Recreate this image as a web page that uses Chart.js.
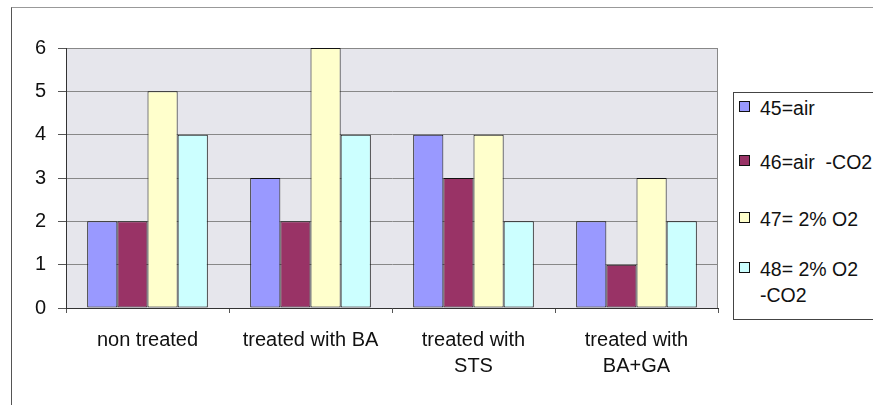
<!DOCTYPE html>
<html>
<head>
<meta charset="utf-8">
<script src="https://cdn.jsdelivr.net/npm/chart.js@4"></script>
<style>
  body { margin: 0; background: #fff; font-family: "Liberation Sans", Arial, sans-serif; }
  #wrap { position: relative; width: 873px; height: 405px; overflow: hidden; }
  #frame { position: absolute; left: 11px; top: 7px; width: 880px; height: 420px;
           border-left: 1px solid #555; border-top: 1px solid #999; }
  #legend { position: absolute; left: 733px; top: 92px; width: 160px; height: 226px;
            border: 1px solid #444; background: #fff; font-size: 19.5px; color: #111; }
  .item { position: absolute; left: 5px; display: flex; align-items: flex-start; }
  .box { width: 9px; height: 9px; border: 1px solid #111; margin-top: 6px; margin-right: 10px; }
</style>
</head>
<body>
<div id="wrap">
  <div id="frame"></div>
  <canvas id="myBarChart" width="873" height="405"></canvas>
  <div id="legend"></div>
</div>
<script>
var categories = [['non treated'], ['treated with BA'], ['treated with', 'STS'], ['treated with', 'BA+GA']];
var seriesNames = ['45=air', '46=air  -CO2', '47= 2% O2', '48= 2% O2\n-CO2'];
var air = [2, 3, 4, 2];
var airNoCO2 = [2, 2, 3, 1];
var lowO2 = [5, 6, 4, 3];
var lowO2NoCO2 = [4, 4, 2, 2];
var barColors = ['#9999ff', '#993366', '#ffffcc', '#ccffff'];
var yTicks = [0, 1, 2, 3, 4, 5, 6];

var values = [air, airNoCO2, lowO2, lowO2NoCO2];

var plotBg = {
    id: 'plotBg',
    beforeDraw: function (chart) {
        var a = chart.chartArea, c = chart.ctx;
        c.save();
        c.fillStyle = '#e6e6ec';
        c.fillRect(a.left, a.top, a.right - a.left, a.bottom - a.top);
        c.strokeStyle = '#888';
        c.lineWidth = 1;
        c.beginPath();
        c.moveTo(a.left, a.top + 0.5);
        c.lineTo(a.right - 0.5, a.top + 0.5);
        c.lineTo(a.right - 0.5, a.bottom);
        c.stroke();
        c.restore();
    }
};

var ctx = document.getElementById('myBarChart').getContext('2d');

var myBarChart = new Chart(ctx, {
    type: 'bar',
    data: {
        labels: categories,
        datasets: values.map(function (v, i) {
            return {
                label: seriesNames[i],
                data: v,
                backgroundColor: barColors[i],
                borderColor: '#111',
                borderWidth: 1,
                borderSkipped: false,
                categoryPercentage: 0.74,
                barPercentage: 1.0
            };
        })
    },
    options: {
        responsive: false,
        animation: false,
        layout: { padding: { left: 0, top: 48, right: 155, bottom: 0 } },
        scales: {
            x: {
                afterFit: function (s) { s.height = 97; },
                grid: { drawOnChartArea: false, color: '#555', tickLength: 5, offset: true },
                border: { color: '#333' },
                ticks: { color: '#111', font: { family: 'Liberation Sans', size: 20, lineHeight: 1.3 }, padding: 14, maxRotation: 0 }
            },
            y: {
                min: 0,
                max: 6,
                afterFit: function (s) { s.width = 66; },
                afterBuildTicks: function (s) { s.ticks = yTicks.map(function (v) { return { value: v }; }); },
                grid: { color: '#888', tickLength: 8, tickColor: '#555' },
                border: { color: '#333' },
                ticks: { color: '#111', font: { family: 'Liberation Sans', size: 20 }, padding: 12 }
            }
        },
        plugins: {
            legend: { display: false },
            tooltip: { enabled: false },
            title: { display: false }
        }
    },
    plugins: [plotBg]
});

var legend = document.getElementById('legend');
var tops = [2, 56, 113, 163];
seriesNames.forEach(function (name, i) {
    var item = document.createElement('div');
    item.className = 'item';
    item.style.top = tops[i] + 'px';
    var box = document.createElement('div');
    box.className = 'box';
    box.style.background = barColors[i];
    var txt = document.createElement('div');
    txt.style.whiteSpace = 'pre';
    txt.style.lineHeight = '26px';
    txt.textContent = name;
    item.appendChild(box);
    item.appendChild(txt);
    legend.appendChild(item);
});
</script>
</body>
</html>
